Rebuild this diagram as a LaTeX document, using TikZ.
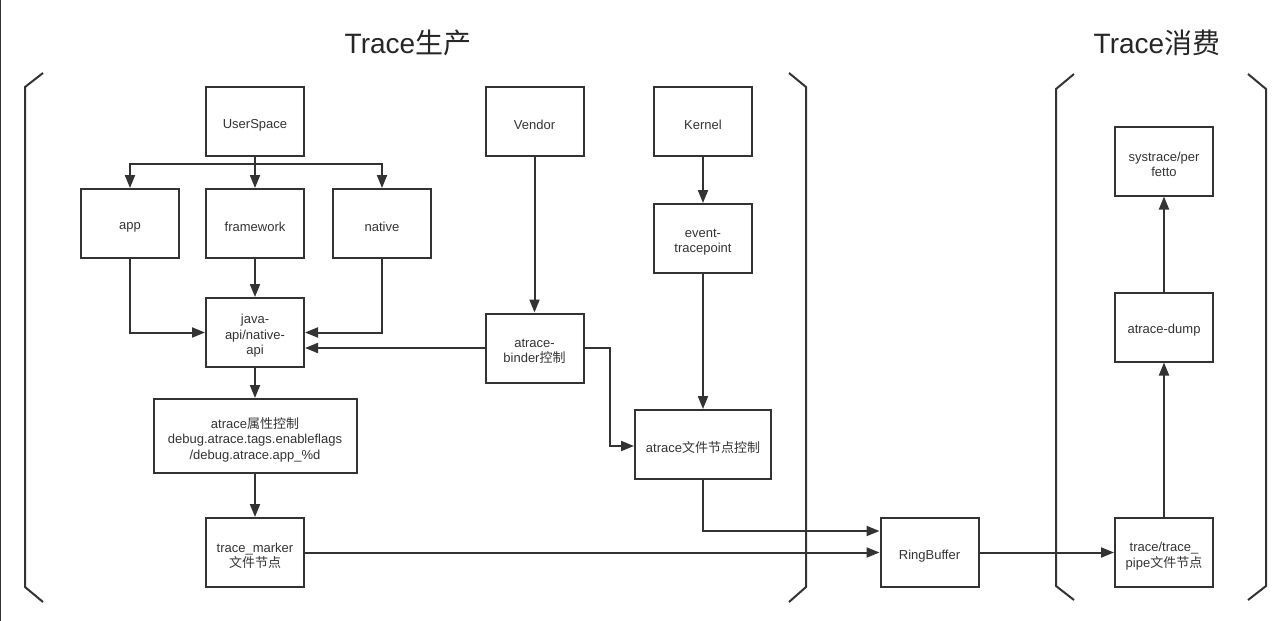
\documentclass[tikz,border=0pt]{standalone}
\usepackage{fontspec}
\setmainfont{Liberation Sans}
\newfontfamily\cjk{Noto Sans CJK SC}
\usetikzlibrary{arrows.meta}
\definecolor{linec}{HTML}{333333}
\tikzset{
  box/.style={draw=linec, line width=2pt, minimum width=98pt, minimum height=69pt,
    inner sep=0pt},
  boxtext/.style={align=center, inner sep=0pt, text=linec,
    font=\fontsize{13}{15.5}\selectfont},
  arr/.style={draw=linec, line width=2pt, -{Triangle[length=13pt,width=10pt]}},
  plain/.style={draw=linec, line width=2pt},
  bracketline/.style={draw=linec, line width=2pt},
  titlestyle/.style={text=black!85, font=\fontsize{28}{32}\selectfont, inner sep=0pt}
}
% \bx{name}{x}{y}{width}{height}{text}
\newcommand\bx[6]{%
  \node[box, minimum width=#4pt, minimum height=#5pt] (#1) at (#2,#3) {};
  \node[boxtext] (#1-t) at ([yshift=-3.5pt]#1.center) {#6};
}
\begin{document}
\begin{tikzpicture}[x=1pt,y=-1pt]
\useasboundingbox (0,0) rectangle (1280,621);
% left edge
\draw[linec, line width=1.2pt] (0.6,0) -- (0.6,621);
% titles
\node[titlestyle] (t1) at (408,43) {Trace{\cjk 生产}};
\node[titlestyle] (t2) at (1157,43) {Trace{\cjk 消费}};
% brackets
\draw[bracketline] (43,73) -- (25,87) -- (25,587) -- (43,602);
\draw[bracketline] (789,73) -- (806,87) -- (806,587) -- (789,602);
\draw[bracketline] (1074,74) -- (1056,89) -- (1056,586) -- (1074,600);
\draw[bracketline] (1248,74) -- (1266,89) -- (1266,586) -- (1248,600);
% nodes
\bx{us}{255}{121.5}{98}{69}{UserSpace}
\bx{vendor}{534.5}{121.5}{98}{69}{Vendor}
\bx{kernel}{703}{121.5}{98}{69}{Kernel}
\bx{app}{130}{223.5}{98}{69}{app}
\bx{fw}{255}{223.5}{98}{69}{framework}
\bx{native}{382}{223.5}{98}{69}{native}
\bx{event}{703}{238.5}{98}{69}{event-\\tracepoint}
\bx{sys}{1164}{161}{98}{69}{systrace/per\\fetto}
\bx{java}{255}{332.5}{98}{69}{java-\\api/native-\\api}
\bx{binder}{534.5}{348}{98}{69}{atrace-\\binder{\cjk 控制}}
\bx{prop}{255}{436}{203}{74}{atrace{\cjk 属性控制}\\debug.atrace.tags.enableflags\\/debug.atrace.app\_\%d}
\bx{afile}{703}{444.5}{136}{69}{atrace{\cjk 文件节点控制}}
\bx{dump}{1164}{327}{98}{69}{atrace-dump}
\bx{tm}{255}{552.5}{98}{69}{trace\_marker\\{\cjk 文件节点}}
\bx{rb}{929.5}{552.5}{98}{69}{RingBuffer}
\bx{tp}{1164}{552.5}{98}{69}{trace/trace\_\\pipe{\cjk 文件节点}}
% connectors
\coordinate (j) at (255,164);
\draw[plain] (us.south) -- (j);
\draw[arr] (j) -| (app.north);
\draw[arr] (j) -| (native.north);
\draw[arr] (us.south) -- (fw.north);
\draw[arr] (fw.south) -- (java.north);
\draw[arr] (app.south) |- (java.west);
\draw[arr] (native.south) |- (java.east);
\draw[arr] (binder.west) -- (binder.west -| java.east);
\draw[arr] (vendor.south) -- (binder.north);
\draw[arr] (binder.east) -- ++(25,0) |- ([yshift=-1.5pt]afile.west);
\draw[arr] (kernel.south) -- (event.north);
\draw[arr] (event.south) -- (afile.north);
\draw[arr] (java.south) -- (prop.north);
\draw[arr] (prop.south) -- (tm.north);
\draw[arr] (tm.east) -- (rb.west);
\draw[arr] (afile.south) |- ([yshift=21.5pt]rb.west);
\draw[arr] (rb.east) -- (tp.west);
\draw[arr] (tp.north) -- (dump.south);
\draw[arr] (dump.north) -- (sys.south);
\end{tikzpicture}
\end{document}
